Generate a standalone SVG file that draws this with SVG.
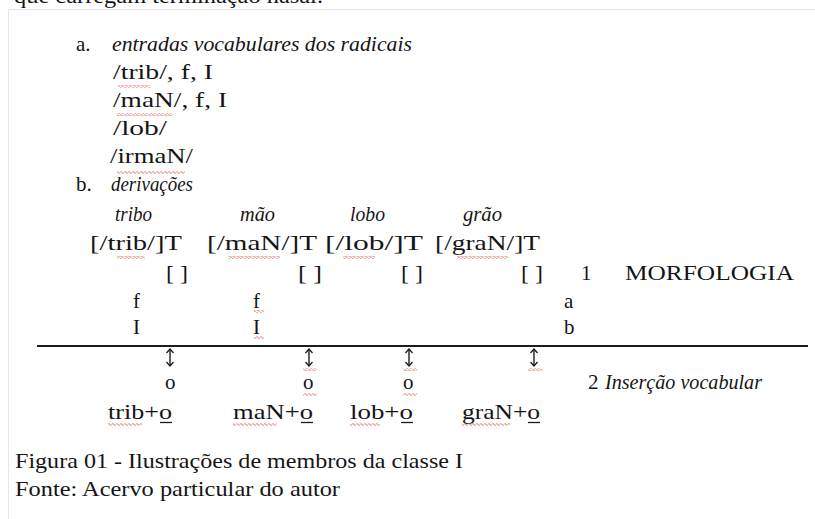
<svg xmlns="http://www.w3.org/2000/svg" width="815" height="519" viewBox="0 0 815 519">
<defs>
<style>
text{font-family:"Liberation Serif","Times New Roman",serif;fill:#151515;font-size:21px}
.it{font-style:italic;font-size:20px}
.sq{fill:url(#wave)}
.ul{stroke:#1c1c1c;stroke-width:1.3}
.arr{stroke:#1c1c1c;stroke-width:1.4;fill:none}
</style>
<pattern id="wave" patternUnits="userSpaceOnUse" width="4" height="3">
<path d="M0 1.5 L1 0.5 L3 2.5 L4 1.5" stroke="#e03030" stroke-width="0.8" fill="none"/>
</pattern>
<marker id="ah" viewBox="0 0 8 8" refX="6.5" refY="4" markerWidth="8" markerHeight="8" markerUnits="userSpaceOnUse" orient="auto-start-reverse">
<path d="M2.5 0.5 L6.5 4 L2.5 7.5" stroke="#1c1c1c" stroke-width="1.3" fill="none"/>
</marker>
</defs>
<rect width="815" height="519" fill="#ffffff"/>
<text x="14" y="3" font-size="22" textLength="309" lengthAdjust="spacingAndGlyphs">que carregam terminação nasal.</text>
<path d="M8.5 519 V9.5 H815" fill="none" stroke="#e6e6e6" stroke-width="1"/>

<g id="part-a">
<text x="76" y="51">a.</text>
<text class="it" x="112" y="51" textLength="300" lengthAdjust="spacingAndGlyphs">entradas vocabulares dos radicais</text>
<text x="113" y="79" textLength="100" lengthAdjust="spacingAndGlyphs">/trib/, f, I</text>
<text x="113" y="107" textLength="114" lengthAdjust="spacingAndGlyphs">/maN/, f, I</text>
<text x="113" y="135" textLength="54" lengthAdjust="spacingAndGlyphs">/lob/</text>
<text x="110" y="163" textLength="83" lengthAdjust="spacingAndGlyphs">/irmaN/</text>
<rect class="sq" x="118" y="85" width="32" height="3"/>
<rect class="sq" x="117" y="113" width="56" height="3"/>
<rect class="sq" x="117" y="171" width="68" height="3"/>
</g>

<g id="part-b">
<text x="76" y="191">b.</text>
<text class="it" x="111" y="191" textLength="82" lengthAdjust="spacingAndGlyphs">derivações</text>
</g>

<g id="col-tribo">
<text class="it" x="115" y="221" textLength="37" lengthAdjust="spacingAndGlyphs">tribo</text>
<text x="90" y="250" textLength="92" lengthAdjust="spacingAndGlyphs">[/trib/]T</text>
<rect class="sq" x="117" y="256" width="28" height="3"/>
<text x="166" y="280" textLength="22" lengthAdjust="spacingAndGlyphs">[ ]</text>
<text x="133" y="308">f</text>
<text x="133" y="334">I</text>
<text x="165" y="389">o</text>
<text x="108" y="419" textLength="64" lengthAdjust="spacingAndGlyphs">trib+o</text>
<line class="ul" x1="160" y1="422.5" x2="172" y2="422.5"/>
<rect class="sq" x="108" y="423" width="34" height="3"/>
</g>

<g id="col-mao">
<text class="it" x="240" y="221" textLength="35" lengthAdjust="spacingAndGlyphs">mão</text>
<text x="207" y="250" textLength="110" lengthAdjust="spacingAndGlyphs">[/maN/]T</text>
<rect class="sq" x="228" y="256" width="52" height="3"/>
<text x="298" y="280" textLength="24" lengthAdjust="spacingAndGlyphs">[ ]</text>
<text x="253" y="308">f</text>
<rect class="sq" x="254" y="310" width="10" height="3"/>
<text x="253" y="334">I</text>
<rect class="sq" x="254" y="336" width="10" height="3"/>
<text x="303" y="389">o</text>
<rect class="sq" x="303" y="393" width="14" height="3"/>
<text x="233" y="419" textLength="80" lengthAdjust="spacingAndGlyphs">maN+o</text>
<line class="ul" x1="301" y1="422.5" x2="313" y2="422.5"/>
<rect class="sq" x="233" y="423" width="44" height="3"/>
</g>

<g id="col-lobo">
<text class="it" x="350" y="221" textLength="35" lengthAdjust="spacingAndGlyphs">lobo</text>
<text x="325" y="250" textLength="98" lengthAdjust="spacingAndGlyphs">[/lob/]T</text>
<rect class="sq" x="343" y="256" width="32" height="3"/>
<text x="401" y="280" textLength="22" lengthAdjust="spacingAndGlyphs">[ ]</text>
<text x="403" y="389">o</text>
<rect class="sq" x="403" y="393" width="14" height="3"/>
<text x="350" y="419" textLength="63" lengthAdjust="spacingAndGlyphs">lob+o</text>
<line class="ul" x1="401" y1="422.5" x2="413" y2="422.5"/>
<rect class="sq" x="350" y="423" width="30" height="3"/>
</g>

<g id="col-grao">
<text class="it" x="463" y="221" textLength="39" lengthAdjust="spacingAndGlyphs">grão</text>
<text x="435" y="250" textLength="105" lengthAdjust="spacingAndGlyphs">[/graN/]T</text>
<rect class="sq" x="457" y="256" width="51" height="3"/>
<text x="521" y="280" textLength="22" lengthAdjust="spacingAndGlyphs">[ ]</text>
<text x="462" y="419" textLength="78" lengthAdjust="spacingAndGlyphs">graN+o</text>
<line class="ul" x1="528" y1="422.5" x2="540" y2="422.5"/>
<rect class="sq" x="462" y="423" width="48" height="3"/>
</g>

<g id="levels">
<text x="581" y="280">1</text>
<text x="625" y="280" textLength="169" lengthAdjust="spacingAndGlyphs">MORFOLOGIA</text>
<text x="564" y="308">a</text>
<text x="564" y="334">b</text>
<text x="588" y="389">2</text>
<text class="it" x="605" y="389" textLength="157" lengthAdjust="spacingAndGlyphs">Inserção vocabular</text>
</g>

<g id="connectors">
<line x1="37" y1="346" x2="808" y2="346" stroke="#1c1c1c" stroke-width="2"/>
<line class="arr" x1="170" y1="349" x2="170" y2="366" marker-start="url(#ah)" marker-end="url(#ah)"/>
<line class="arr" x1="309" y1="349" x2="309" y2="366" marker-start="url(#ah)" marker-end="url(#ah)"/>
<line class="arr" x1="409" y1="349" x2="409" y2="366" marker-start="url(#ah)" marker-end="url(#ah)"/>
<line class="arr" x1="534" y1="349" x2="534" y2="366" marker-start="url(#ah)" marker-end="url(#ah)"/>
<rect class="sq" x="303" y="368" width="14" height="3"/>
<rect class="sq" x="403" y="368" width="14" height="3"/>
<rect class="sq" x="528" y="368" width="14" height="3"/>
</g>

<g id="caption">
<text x="15" y="468" textLength="448" lengthAdjust="spacingAndGlyphs">Figura 01 - Ilustrações de membros da classe I</text>
<text x="15" y="496" textLength="325" lengthAdjust="spacingAndGlyphs">Fonte: Acervo particular do autor</text>
</g>
</svg>
